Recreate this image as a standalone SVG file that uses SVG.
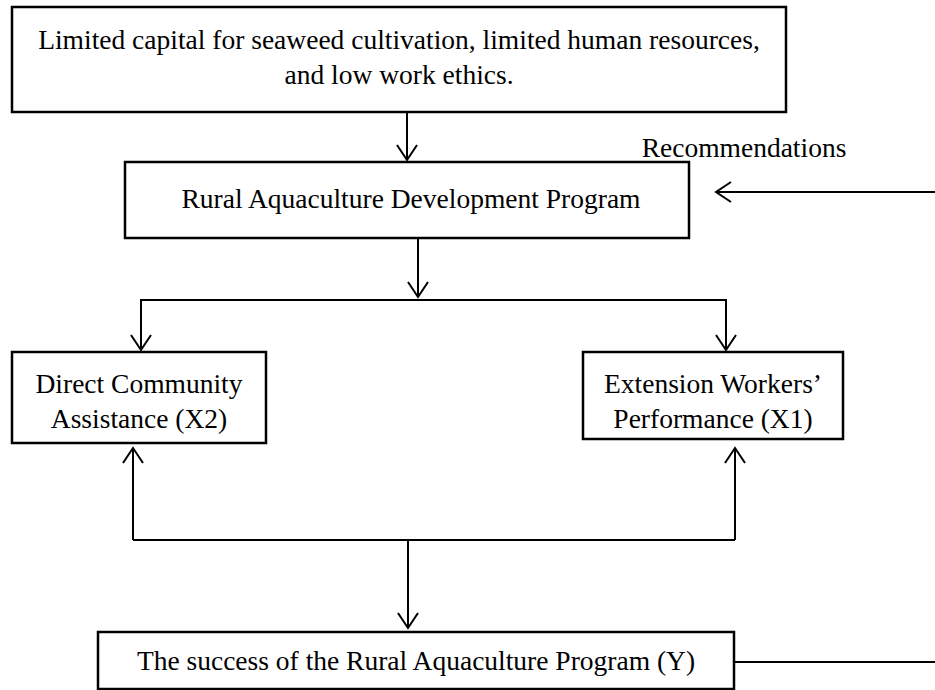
<svg xmlns="http://www.w3.org/2000/svg" width="935" height="690" viewBox="0 0 935 690">
<defs>
<marker id="arr" markerUnits="userSpaceOnUse" markerWidth="24" markerHeight="24" refX="16" refY="11" orient="auto" viewBox="0 0 24 22">
<path d="M1,1 L16,11 L1,21" fill="none" stroke="#000" stroke-width="2"/>
</marker>
<style>
.box{fill:#fff;stroke:#000;stroke-width:2.5}
.t{font-family:"Liberation Serif","Times New Roman",serif;font-size:27.5px;fill:#000;text-anchor:middle}
.c{fill:none;stroke:#000;stroke-width:2}
</style>
</defs>
<rect width="935" height="690" fill="#fff"/>
<g id="connectors">
<line class="c" x1="407" y1="112" x2="407" y2="160" marker-end="url(#arr)"/>
<line class="c" x1="935" y1="192" x2="716" y2="192" marker-end="url(#arr)"/>
<line class="c" x1="418" y1="238" x2="418" y2="297" marker-end="url(#arr)"/>
<polyline class="c" points="141,350 141,300 726,300 726,350"/>
<line class="c" x1="141" y1="300" x2="141" y2="350" marker-end="url(#arr)"/>
<line class="c" x1="726" y1="300" x2="726" y2="350" marker-end="url(#arr)"/>
<polyline class="c" points="133,540 735,540"/>
<line class="c" x1="133" y1="540" x2="133" y2="448" marker-end="url(#arr)"/>
<line class="c" x1="735" y1="540" x2="735" y2="448" marker-end="url(#arr)"/>
<line class="c" x1="408" y1="540" x2="408" y2="628" marker-end="url(#arr)"/>
<line class="c" x1="734" y1="662" x2="935" y2="662"/>
</g>
<g id="problem">
<rect class="box" x="12" y="7" width="774" height="105"/>
<text class="t" x="399" y="49">Limited capital for seaweed cultivation, limited human resources,</text>
<text class="t" x="399" y="84">and low work ethics.</text>
</g>
<g id="recommendations">
<text class="t" x="744" y="157">Recommendations</text>
</g>
<g id="program">
<rect class="box" x="125" y="162" width="564" height="76"/>
<text class="t" x="411" y="208">Rural Aquaculture Development Program</text>
</g>
<g id="x2">
<rect class="box" x="12" y="352" width="254" height="91"/>
<text class="t" x="139" y="393">Direct Community</text>
<text class="t" x="139" y="428">Assistance (X2)</text>
</g>
<g id="x1">
<rect class="box" x="583" y="352" width="260" height="87"/>
<text class="t" x="713" y="393">Extension Workers’</text>
<text class="t" x="713" y="428">Performance (X1)</text>
</g>
<g id="y">
<rect class="box" x="98" y="632" width="636" height="57"/>
<text class="t" x="416" y="670">The success of the Rural Aquaculture Program (Y)</text>
</g>
</svg>
